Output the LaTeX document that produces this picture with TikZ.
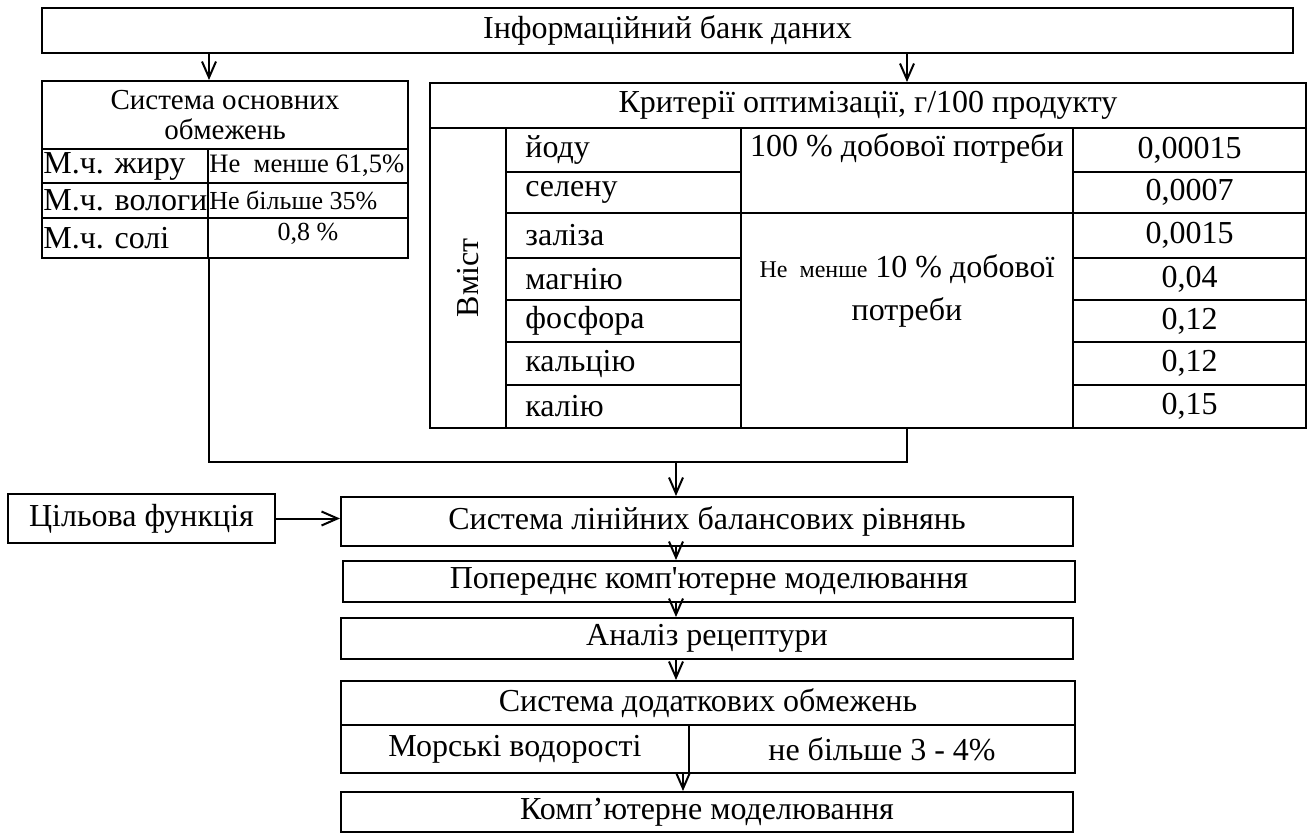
\documentclass[tikz,border=0pt]{standalone}
\usepackage{fontspec}
\setmainfont{Liberation Serif}
\usetikzlibrary{arrows.meta,positioning}
\tikzstyle{box}=[draw,line width=1pt,inner sep=0pt,font=\fontsize{16}{18}\selectfont]
\tikzstyle{lab}=[inner sep=1pt,font=\fontsize{16}{18}\selectfont]
\tikzstyle{arr}=[line width=1pt,-{Straight Barb[length=8pt,width=7pt]}]

\begin{document}
\begin{tikzpicture}[x=0.5pt,y=-0.5pt]
	\useasboundingbox (0,0) rectangle (1307,836);
	\node[box,minimum width=625.5pt,minimum height=22.5pt] (bank) at (667.5,30.5) {Інформаційний банк даних};
	% basic restrictions
	\node[box,minimum width=183pt,minimum height=34pt,align=center,font=\fontsize{14.5}{15}\selectfont] (osnT) at (225,115) {Система основних\\обмежень};
	\node[box,minimum width=83pt,minimum height=17pt] (zhyr) at (125,166) {};
	\node[box,minimum width=100pt,minimum height=17pt] (zhyrV) at (308,166) {};
	\node[box,minimum width=83pt,minimum height=17.5pt] (vol) at (125,200.5) {};
	\node[box,minimum width=100pt,minimum height=17.5pt] (volV) at (308,200.5) {};
	\node[box,minimum width=83pt,minimum height=20pt] (sol) at (125,238) {};
	\node[box,minimum width=100pt,minimum height=20pt] (solV) at (308,238) {};
	\node[lab,anchor=west] (zhyrT) at (zhyr.west) {М.ч. жиру};
	\node[lab,anchor=west] (volT) at (vol.west) {М.ч. вологи};
	\node[lab,anchor=west] (solT) at (sol.west) {М.ч. солі};
	\node[lab,anchor=west,font=\fontsize{13.3}{15}\selectfont] (zhyrVT) at (zhyrV.west) {Не\ \ менше 61,5\%};
	\node[lab,anchor=west,font=\fontsize{13}{15}\selectfont] (volVT) at (volV.west) {Не більше 35\%};
	\node[lab,font=\fontsize{13}{15}\selectfont] (solVT) at (308,234) {0,8 \%};
	% optimisation criteria
	\node[box,minimum width=438pt,minimum height=22.5pt] (kritT) at (868,105.5) {Критерії оптимізації, г/100 продукту};
	\node[box,minimum width=150pt,minimum height=38pt,rotate=90] (vmist) at (468,278) {Вміст};
	\node[box,minimum width=117.5pt,minimum height=22pt] (jod) at (623.5,150) {};
	\node[box,minimum width=117.5pt,minimum height=20.5pt] (sel) at (623.5,192.5) {};
	\node[box,minimum width=117.5pt,minimum height=22.5pt] (zal) at (623.5,235.5) {};
	\node[box,minimum width=117.5pt,minimum height=21pt] (mag) at (623.5,279) {};
	\node[box,minimum width=117.5pt,minimum height=21pt] (fos) at (623.5,321) {};
	\node[box,minimum width=117.5pt,minimum height=21.5pt] (kal) at (623.5,363.5) {};
	\node[box,minimum width=117.5pt,minimum height=21.5pt] (kali) at (623.5,406.5) {};
	\node[lab,anchor=west,inner xsep=10pt] (jodT) at (jod.west) {йоду};
	\node[lab,anchor=west,inner xsep=10pt] (selT) at (sel.west) {селену};
	\node[lab,anchor=west,inner xsep=10pt] (zalT) at (zal.west) {заліза};
	\node[lab,anchor=west,inner xsep=10pt] (magT) at (mag.west) {магнію};
	\node[lab,anchor=west,inner xsep=10pt] (fosT) at (fos.west) {фосфора};
	\node[lab,anchor=west,inner xsep=10pt] (kalT) at (kal.west) {кальцію};
	\node[lab,anchor=west,inner xsep=10pt] (kaliT) at (kali.west) {калію};
	\node[box,minimum width=166pt,minimum height=42.5pt] (potr) at (907,170.5) {};
	\node[box,minimum width=166pt,minimum height=107.5pt] (mensh) at (907,320.5) {};
	\node[lab] (potrT) at (907,148) {100 \% добової потреби};
	\node[lab,align=center,font=\fontsize{16}{21.5}\selectfont] (menshT) at (907,291) {{\fontsize{12}{14}\selectfont Не\ \ менше} 10 \% добової\\потреби};
	\node[box,minimum width=116.5pt,minimum height=22pt] (jodV) at (1189.5,150) {0,00015};
	\node[box,minimum width=116.5pt,minimum height=20.5pt] (selV) at (1189.5,192.5) {0,0007};
	\node[box,minimum width=116.5pt,minimum height=22.5pt] (zalV) at (1189.5,235.5) {0,0015};
	\node[box,minimum width=116.5pt,minimum height=21pt] (magV) at (1189.5,279) {0,04};
	\node[box,minimum width=116.5pt,minimum height=21pt] (fosV) at (1189.5,321) {0,12};
	\node[box,minimum width=116.5pt,minimum height=21.5pt] (kalV) at (1189.5,363.5) {0,12};
	\node[box,minimum width=116.5pt,minimum height=21.5pt] (kaliV) at (1189.5,406.5) {0,15};
	% modelling chain
	\node[box,minimum width=133.5pt,minimum height=24.5pt] (ciel) at (141.5,518.5) {Цільова функція};
	\node[box,minimum width=366pt,minimum height=24.5pt] (lin) at (707,521.5) {Система лінійних балансових рівнянь};
	\node[box,minimum width=366pt,minimum height=20.5pt] (pop) at (709,581.5) {Попереднє комп\textquotesingle ютерне моделювання};
	\node[box,minimum width=366pt,minimum height=20.5pt] (anal) at (707,638.5) {Аналіз рецептури};
	\node[box,minimum width=367pt,minimum height=22pt] (dodT) at (708,703) {Система додаткових обмежень};
	\node[box,minimum width=174pt,minimum height=24pt] (dodL) at (515,749) {Морські водорості};
	\node[box,minimum width=193pt,minimum height=24pt] (dodR) at (882,749) {не більше 3 - 4\%};
	\node[box,minimum width=366pt,minimum height=20pt] (komp) at (707,812) {Комп’ютерне моделювання};
	\coordinate (jn) at (676,462);
	\coordinate (jk) at (683,773);
	\draw[arr] (bank.south -| zhyr.east) to (osnT.north -| zhyr.east);
	\draw[arr] (bank.south -| potr.north) to (kritT.north -| potr.north);
	\draw[line width=1pt] (sol.south east) |- (jn) -| (mensh.south);
	\draw[arr] (jn) to (lin.north -| jn);
	\draw[arr] (ciel.east) to (lin.west |- ciel.east);
	\draw[arr] (lin.south -| jn) to (pop.north -| jn);
	\draw[arr] (pop.south -| jn) to (anal.north -| jn);
	\draw[arr] (anal.south -| jn) to (dodT.north -| jn);
	\draw[arr] (jk) to (komp.north -| jk);
\end{tikzpicture}
\end{document}
